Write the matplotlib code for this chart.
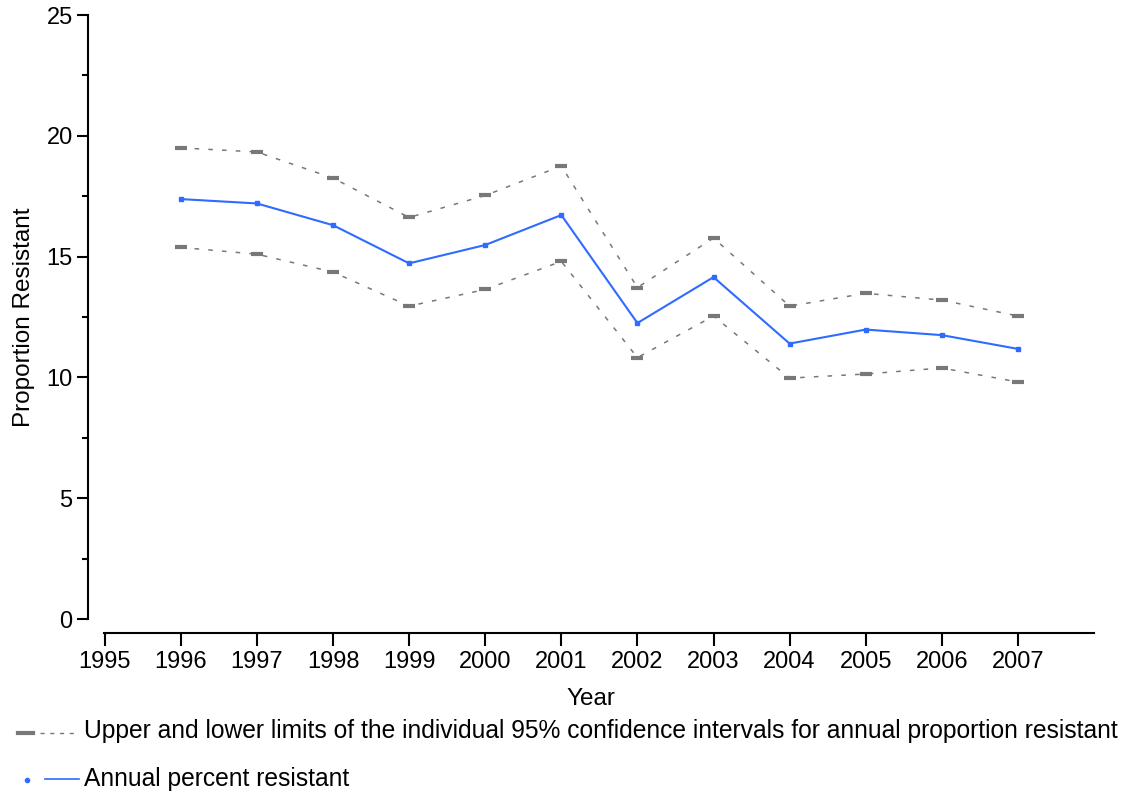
import matplotlib.pyplot as plt
from matplotlib.lines import Line2D
from matplotlib.ticker import MultipleLocator

plt.rcParams['font.family'] = ['Liberation Sans', 'DejaVu Sans']

years = [1996, 1997, 1998, 1999, 2000, 2001, 2002, 2003, 2004, 2005, 2006, 2007]
annual = [17.38, 17.2, 16.3, 14.72, 15.48, 16.72, 12.25, 14.15, 11.4, 11.98, 11.75, 11.18]
upper = [19.5, 19.33, 18.25, 16.62, 17.53, 18.75, 13.72, 15.77, 12.95, 13.48, 13.2, 12.54]
lower = [15.38, 15.1, 14.36, 12.95, 13.64, 14.8, 10.82, 12.54, 9.97, 10.14, 10.39, 9.81]
xticks = list(range(1995, 2008))
yticks = [0, 5, 10, 15, 20, 25]

gray = '#787878'
blue = '#2E6BFF'

fig = plt.figure(figsize=(11.29, 7.94), dpi=100)
W, H = 1129, 794
ax = fig.add_axes([88 / W, 1 - 619 / H, (1094 - 88) / W, (619 - 15) / H])

for lim in (upper, lower):
    ax.plot(years, lim, color=gray, lw=1.1, linestyle=(0, (3, 6)), zorder=2)
    ax.plot(years, lim, linestyle='none', marker='_', ms=8.6, mew=3.0,
            color=gray, zorder=3)
ax.plot(years, annual, color=blue, lw=1.5, marker='s', ms=3, mec=blue,
        mfc=blue, zorder=4)

ax.set_xlim(1994.78, 2008.0)
ax.set_ylim(0, 25)
ax.set_xticks(xticks)
ax.set_yticks(yticks)
ax.yaxis.set_minor_locator(MultipleLocator(2.5))

for s in ('top', 'right'):
    ax.spines[s].set_visible(False)
ax.spines['left'].set_linewidth(1.5)
ax.spines['bottom'].set_linewidth(1.5)
ax.spines['left'].set_bounds(0, 25)
ax.spines['bottom'].set_position(('outward', 10))
ax.spines['bottom'].set_bounds(1994.99, 2008.0)

ax.tick_params(axis='y', which='major', length=8, width=1.5, labelsize=17, pad=3)
ax.tick_params(axis='y', which='minor', length=4, width=1.5)
ax.tick_params(axis='x', length=9, width=1.5, labelsize=17, pad=4)

ax.set_xlabel('Year', fontsize=17.5, labelpad=11)
ax.set_ylabel('Proportion Resistant', fontsize=17.5, labelpad=8)

# legend drawn below the plot
fig.add_artist(Line2D([18 / W, 33 / W], [1 - 733 / H] * 2, color=gray, lw=3.0))
fig.add_artist(Line2D([40 / W, 78 / W], [1 - 733 / H] * 2, color=gray, lw=1.0,
                      linestyle=(0, (3, 4))))
fig.text(84 / W, 1 - 731 / H,
         'Upper and lower limits of the individual 95% confidence intervals for annual proportion resistant',
         fontsize=17.7, va='center', ha='left')
fig.add_artist(Line2D([27 / W], [1 - 780 / H], color=blue, marker='o', ms=3,
                      linestyle='none'))
fig.add_artist(Line2D([45 / W, 79 / W], [1 - 779 / H] * 2, color=blue, lw=1.2))
fig.text(84 / W, 1 - 779 / H, 'Annual percent resistant', fontsize=17.7,
         va='center', ha='left')

fig.savefig('out.png', dpi=100)
